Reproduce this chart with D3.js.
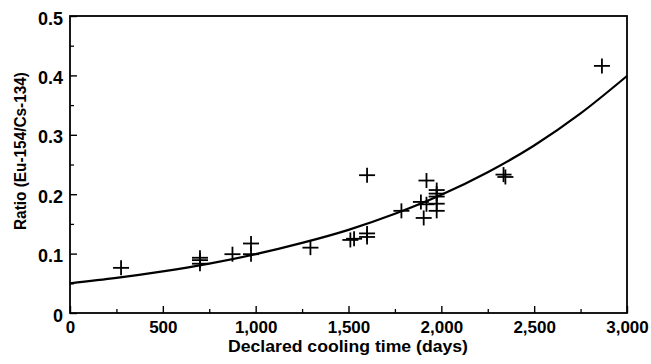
<!DOCTYPE html>
<html><head><meta charset="utf-8">
<script src="https://cdn.jsdelivr.net/npm/d3@7"></script>
<style>
html,body{margin:0;padding:0;background:#fff;}
svg{display:block;}
text{font-family:"Liberation Sans",Arial,Helvetica,sans-serif;font-weight:bold;fill:#000;}
</style></head>
<body>
<svg id="chart" width="651" height="364"></svg>
<script>
// Data
const coolingDays = [275, 700, 700, 700, 875, 975, 975, 1295, 1510, 1530, 1600, 1600, 1600, 1785, 1890, 1905, 1920, 1920, 1975, 1975, 1975, 1975, 1975, 2335, 2345, 2865];
const ratios      = [0.076, 0.093, 0.089, 0.083, 0.099, 0.117, 0.099, 0.110, 0.123, 0.125, 0.232, 0.134, 0.128, 0.172, 0.187, 0.160, 0.223, 0.183, 0.207, 0.201, 0.196, 0.184, 0.172, 0.233, 0.229, 0.416];
const fitDays   = [0, 250, 500, 750, 1000, 1250, 1500, 1750, 2000, 2250, 2500, 2750, 3000];
const fitRatios = [0.050, 0.059, 0.070, 0.083, 0.099, 0.118, 0.140, 0.167, 0.199, 0.237, 0.282, 0.336, 0.399];
const xTicks = [0, 500, 1000, 1500, 2000, 2500, 3000];
const xMinorTicks = [250, 750, 1250, 1750, 2250, 2750];
const yTicks = [0, 0.1, 0.2, 0.3, 0.4, 0.5];
const yMinorTicks = [0.05, 0.15, 0.25, 0.35, 0.45];
const xTitle = "Declared cooling time (days)";
const yTitle = "Ratio (Eu-154/Cs-134)";

const svg = d3.select("#chart");
const L = 70, R = 627, T = 16, B = 313;
const x = d3.scaleLinear().domain([0, 3000]).range([L, R]);
const y = d3.scaleLinear().domain([0, 0.5]).range([B, T]);

// minor ticks
svg.append("g").attr("transform", `translate(0,${B})`)
  .call(d3.axisBottom(x).tickValues(xMinorTicks).tickSizeInner(-4).tickSizeOuter(0).tickFormat(""))
  .call(g => g.select(".domain").remove())
  .selectAll("line").attr("stroke", "#000").attr("stroke-width", 1.3);
svg.append("g").attr("transform", `translate(${L},0)`)
  .call(d3.axisLeft(y).tickValues(yMinorTicks).tickSizeInner(-4).tickSizeOuter(0).tickFormat(""))
  .call(g => g.select(".domain").remove())
  .selectAll("line").attr("stroke", "#000").attr("stroke-width", 1.3);

// major axes
const xa = svg.append("g").attr("transform", `translate(0,${B})`)
  .call(d3.axisBottom(x).tickValues(xTicks).tickSizeInner(-7).tickSizeOuter(0).tickPadding(8).tickFormat(d3.format(",")));
xa.select(".domain").remove();
xa.selectAll("line").attr("stroke", "#000").attr("stroke-width", 1.4);
xa.selectAll("text").attr("font-size", 17).attr("fill", "#000").style("font-weight", "bold");

const ya = svg.append("g").attr("transform", `translate(${L},0)`)
  .call(d3.axisLeft(y).tickValues(yTicks).tickSizeInner(-7).tickSizeOuter(0).tickPadding(7).tickFormat(d => d === 0 ? "0" : d3.format(".1f")(d)));
ya.select(".domain").remove();
ya.selectAll("line").attr("stroke", "#000").attr("stroke-width", 1.4);
ya.selectAll("text").attr("font-size", 18).attr("dy", "0.45em").attr("fill", "#000").style("font-weight", "bold");

// frame
svg.append("rect").attr("x", L).attr("y", T).attr("width", R - L).attr("height", B - T)
  .attr("fill", "none").attr("stroke", "#000").attr("stroke-width", 1.8);

// fitted curve
const line = d3.line().x((d, i) => x(fitDays[i])).y((d, i) => y(fitRatios[i])).curve(d3.curveMonotoneX);
svg.append("path").datum(fitDays).attr("d", line)
  .attr("fill", "none").attr("stroke", "#000").attr("stroke-width", 2.2);

// data crosses
const hw = 8, hh = 7.5;
const pts = svg.append("g").selectAll("g").data(coolingDays).join("g")
  .attr("transform", (d, i) => `translate(${x(d)},${y(ratios[i])})`);
pts.append("line").attr("x1", -hw).attr("x2", hw).attr("y1", 0).attr("y2", 0)
  .attr("stroke", "#000").attr("stroke-width", 1.8);
pts.append("line").attr("x1", 0).attr("x2", 0).attr("y1", -hh).attr("y2", hh)
  .attr("stroke", "#000").attr("stroke-width", 1.8);

// titles
svg.append("text").attr("x", 348).attr("y", 352).attr("text-anchor", "middle")
  .attr("font-size", 16).attr("textLength", 240).attr("lengthAdjust", "spacingAndGlyphs").text(xTitle);
svg.append("text").attr("transform", `translate(26,151) rotate(-90)`).attr("text-anchor", "middle")
  .attr("font-size", 17).attr("textLength", 158).attr("lengthAdjust", "spacingAndGlyphs").text(yTitle);
</script>
</body></html>
